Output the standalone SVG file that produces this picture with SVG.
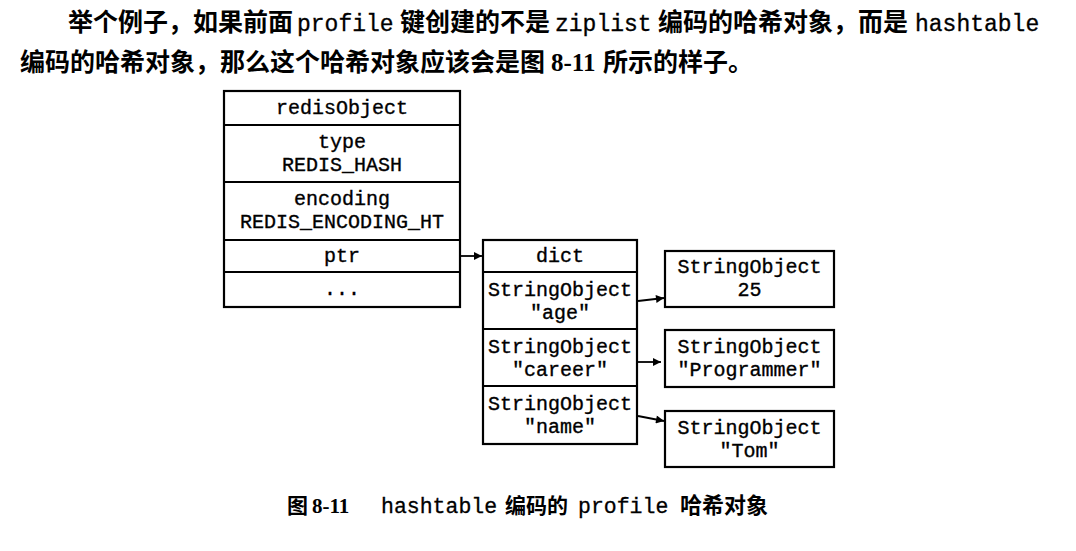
<svg xmlns="http://www.w3.org/2000/svg" width="1076" height="551" viewBox="0 0 1076 551">
<defs>
<style>
.box{fill:#fff;stroke:#000;stroke-width:2.2}
.sep{stroke:#000;stroke-width:2;fill:none}
.t{font-family:"Liberation Mono","DejaVu Sans Mono",monospace;font-size:20px;fill:#000;text-anchor:middle;stroke:#000;stroke-width:0.35}
.cjk{font-family:"Noto Sans CJK SC","Noto Sans CJK JP",sans-serif;font-weight:bold;fill:#000}
.mono{font-family:"Liberation Mono","DejaVu Sans Mono",monospace;font-weight:normal;stroke:#000;stroke-width:0.3}
.ser{font-family:"Liberation Serif","DejaVu Serif",serif;font-weight:bold}
.conn{stroke:#000;stroke-width:1.8;fill:none}
</style>
<marker id="ah" viewBox="0 0 10 10" refX="10" refY="5" markerWidth="11" markerHeight="8" markerUnits="userSpaceOnUse" orient="auto">
<path d="M0,0 L10,5 L0,10 z" fill="#000"/>
</marker>
</defs>
<rect width="1076" height="551" fill="#fff"/>

<g id="intro">
<text class="cjk" y="31" font-size="25"><tspan x="68">举个例子，如果前面</tspan><tspan class="mono" x="297" font-size="23">profile</tspan><tspan x="400">键创建的不是</tspan><tspan class="mono" x="555" font-size="23">ziplist</tspan><tspan x="658">编码的哈希对象，而是</tspan><tspan class="mono" x="915" font-size="23">hashtable</tspan></text>
<text class="cjk" y="71" font-size="25"><tspan x="20">编码的哈希对象，那么这个哈希对象应该会是图</tspan><tspan class="ser" x="551">8-11</tspan><tspan x="603">所示的样子。</tspan></text>
</g>

<g id="redisObject">
<rect class="box" x="224" y="91" width="236" height="216"/>
<line class="sep" x1="224" y1="125" x2="460" y2="125"/>
<line class="sep" x1="224" y1="182" x2="460" y2="182"/>
<line class="sep" x1="224" y1="240" x2="460" y2="240"/>
<line class="sep" x1="224" y1="272" x2="460" y2="272"/>
<text class="t" x="342" y="114">redisObject</text>
<text class="t" x="342" y="148">type</text>
<text class="t" x="342" y="171">REDIS_HASH</text>
<text class="t" x="342" y="205">encoding</text>
<text class="t" x="342" y="228">REDIS_ENCODING_HT</text>
<text class="t" x="342" y="262">ptr</text>
<text class="t" x="342" y="295">...</text>
</g>

<g id="dict">
<rect class="box" x="483" y="240" width="154" height="204"/>
<line class="sep" x1="483" y1="272" x2="637" y2="272"/>
<line class="sep" x1="483" y1="329" x2="637" y2="329"/>
<line class="sep" x1="483" y1="386" x2="637" y2="386"/>
<text class="t" x="560" y="262">dict</text>
<text class="t" x="560" y="296">StringObject</text>
<text class="t" x="560" y="319">"age"</text>
<text class="t" x="560" y="353">StringObject</text>
<text class="t" x="560" y="376">"career"</text>
<text class="t" x="560" y="410">StringObject</text>
<text class="t" x="560" y="433">"name"</text>
</g>

<g id="val-25">
<rect class="box" x="665" y="251" width="169" height="56"/>
<text class="t" x="749.5" y="273">StringObject</text>
<text class="t" x="749.5" y="296">25</text>
</g>

<g id="val-programmer">
<rect class="box" x="665" y="330" width="169" height="57"/>
<text class="t" x="749.5" y="353">StringObject</text>
<text class="t" x="749.5" y="376">"Programmer"</text>
</g>

<g id="val-tom">
<rect class="box" x="665" y="411" width="169" height="56"/>
<text class="t" x="749.5" y="434">StringObject</text>
<text class="t" x="749.5" y="457">"Tom"</text>
</g>

<g id="connectors">
<line class="conn" x1="461" y1="256" x2="482" y2="256" marker-end="url(#ah)"/>
<line class="conn" x1="638" y1="301" x2="664" y2="298" marker-end="url(#ah)"/>
<line class="conn" x1="638" y1="362" x2="661" y2="362" marker-end="url(#ah)"/>
<line class="conn" x1="638" y1="416" x2="664" y2="421" marker-end="url(#ah)"/>
</g>

<g id="caption">
<text class="cjk" y="513" font-size="21"><tspan x="287">图</tspan><tspan class="ser" x="312">8-11</tspan><tspan class="mono" x="381" font-size="21.5">hashtable</tspan><tspan x="505">编码的</tspan><tspan class="mono" x="578" font-size="21.5">profile</tspan><tspan x="680" font-size="22">哈希对象</tspan></text>
</g>
</svg>
